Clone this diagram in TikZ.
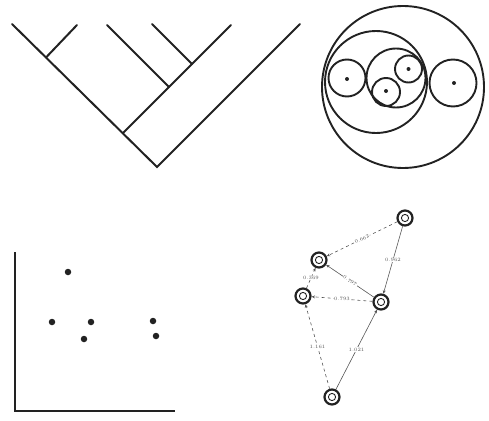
\documentclass[tikz,border=0pt]{standalone}
\usetikzlibrary{arrows.meta}
\definecolor{ink}{HTML}{222222}
\definecolor{edge}{HTML}{555555}
\tikzset{
  treeline/.style={line width=2pt, draw=ink, line cap=round},
  ring/.style={line width=1.9pt, draw=ink},
  dotmark/.style={circle, fill=ink, inner sep=0pt, minimum size=6.5pt},
  smalldot/.style={circle, fill=ink, inner sep=0pt, minimum size=4pt},
  gnode/.style={circle, draw=ink, line width=2.2pt, minimum size=15pt, inner sep=0pt,
    path picture={\draw[ink, line width=0.9pt] (path picture bounding box.center) circle (3.6pt);}},
  gedge/.style={draw=edge, line width=0.6pt, -{Stealth[length=3.5pt,width=3pt]}},
  glabel/.style={fill=white, inner sep=0.6pt, text=edge, font=\fontsize{5}{5}\selectfont},
}
\begin{document}
\begin{tikzpicture}[x=1pt,y=-1pt]
\useasboundingbox (0,0) rectangle (489,420);
% ---- tree ----
\coordinate (root) at (157,167);
\coordinate (L1) at (12,24);
\coordinate (L2) at (77,25);
\coordinate (L3) at (107,25);
\coordinate (L4) at (152,24);
\coordinate (L5) at (231,25);
\coordinate (L6) at (300,24);
\coordinate (J1) at (46,57.5);
\coordinate (J2) at (123,133);
\coordinate (J3) at (169,87);
\coordinate (J4) at (192,64);
\draw[treeline] (L1) -- (root) -- (L6);
\draw[treeline] (J1) -- (L2);
\draw[treeline] (J2) -- (L5);
\draw[treeline] (J3) -- (L3);
\draw[treeline] (J4) -- (L4);
% ---- nested circles ----
\draw[ring] (403,87) circle (81);
\draw[ring] (376,82) circle (51);
\draw[ring] (347,78) circle (18.5);
\draw[ring] (396,78) circle (29.5);
\draw[ring] (408.5,69) circle (13.5);
\draw[ring] (386,92) circle (14);
\draw[ring] (453,83) circle (23.5);
\node[smalldot] (c1) at (347,79) {};
\node[smalldot] (c2) at (408.5,69) {};
\node[smalldot] (c3) at (386,91) {};
\node[smalldot] (c4) at (454,83) {};
% ---- scatter ----
\coordinate (ytop) at (15,252);
\coordinate (orig) at (15,411);
\coordinate (xend) at (175,411);
\draw[line width=2pt, draw=ink] (ytop) -- (orig) -- (xend);
\node[dotmark] (p1) at (68,272) {};
\node[dotmark] (p2) at (52,322) {};
\node[dotmark] (p3) at (91,322) {};
\node[dotmark] (p4) at (84,339) {};
\node[dotmark] (p5) at (153,321) {};
\node[dotmark] (p6) at (156,336) {};
% ---- graph ----
\node[gnode] (A) at (405,218) {};
\node[gnode] (B) at (319,260) {};
\node[gnode] (C) at (303,296) {};
\node[gnode] (D) at (381,302) {};
\node[gnode] (E) at (332,397) {};
\draw[gedge, dashed] (A) -- node[glabel, sloped] {0.662} (B);
\draw[gedge] (A) -- node[glabel] {0.962} (D);
\draw[gedge] (D) -- node[glabel, sloped] {0.797} (B);
\draw[gedge, dashed] (C) -- node[glabel] {0.369} (B);
\draw[gedge, dashed] (D) -- node[glabel] {0.793} (C);
\draw[gedge, dashed] (E) -- node[glabel] {1.161} (C);
\draw[gedge] (E) -- node[glabel] {1.021} (D);
\end{tikzpicture}
\end{document}
